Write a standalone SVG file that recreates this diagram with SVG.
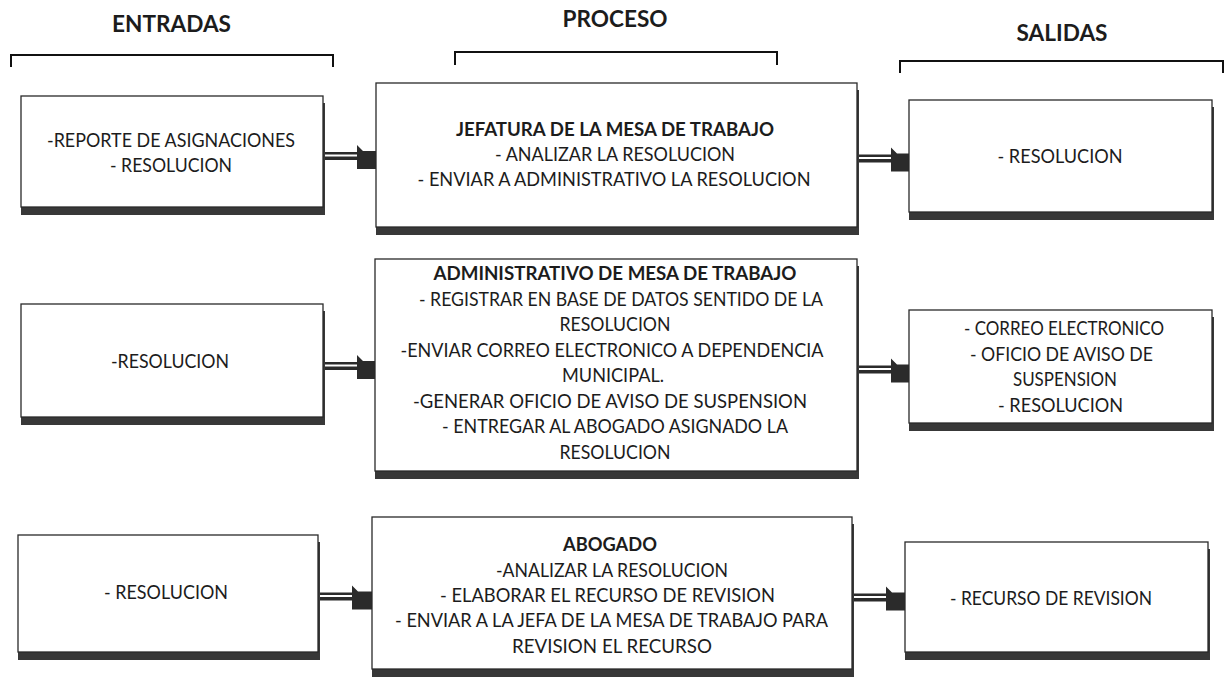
<svg xmlns="http://www.w3.org/2000/svg" width="1224" height="677" viewBox="0 0 1224 677">
<style>
.box{fill:#fff;stroke:#2a2a2a;stroke-width:1.3}
.sh{fill:#383838}
.t{font-family:Lato,"Open Sans","Liberation Sans",sans-serif;font-size:19.5px;fill:#1c1c1c;text-anchor:middle}
.b{font-weight:bold}
.h{font-family:Lato,"Open Sans","Liberation Sans",sans-serif;font-size:22.5px;font-weight:bold;fill:#1c1c1c;text-anchor:middle}
.br{fill:none;stroke:#111;stroke-width:2}
</style>
<defs>
<g id="arr">
<rect x="0" y="-4" width="36" height="8" fill="#2b2b2b"/>
<rect x="0" y="-1.5" width="36" height="2" fill="#fff"/>
<polygon points="34,-11 40,-5 54,-5 54,13 34,13" fill="#2b2b2b"/>
</g>
</defs>
<rect width="1224" height="677" fill="#fff"/>

<g id="headers">
<text class="h" x="171.5" y="32" textLength="119" lengthAdjust="spacingAndGlyphs">ENTRADAS</text>
<text class="h" x="615" y="27" textLength="105" lengthAdjust="spacingAndGlyphs">PROCESO</text>
<text class="h" x="1062" y="41" textLength="91" lengthAdjust="spacingAndGlyphs">SALIDAS</text>
<path class="br" d="M11,67 V55 H333 V67"/>
<path class="br" d="M455,65 V52 H777 V65"/>
<path class="br" d="M900,73 V61 H1223 V73"/>
</g>

<g id="connectors">
<use href="#arr" x="323" y="156"/>
<use href="#arr" x="857" y="158.5"/>
<use href="#arr" x="323" y="366"/>
<use href="#arr" x="857" y="369.5"/>
<use href="#arr" x="318" y="596.5"/>
<use href="#arr" x="852" y="597.5"/>
</g>

<g id="entrada1">
<rect class="sh" x="21" y="103" width="304" height="112"/>
<rect class="box" x="21" y="96" width="302" height="111"/>
<text class="t" x="171" y="147" textLength="248" lengthAdjust="spacingAndGlyphs">-REPORTE DE ASIGNACIONES</text>
<text class="t" x="171" y="172" textLength="122" lengthAdjust="spacingAndGlyphs">- RESOLUCION</text>
</g>

<g id="proceso1">
<rect class="sh" x="376" y="90" width="483" height="145"/>
<rect class="box" x="376" y="83" width="481" height="144"/>
<text class="t b" x="615" y="136" textLength="318" lengthAdjust="spacingAndGlyphs">JEFATURA DE LA MESA DE TRABAJO</text>
<text class="t" x="615" y="161" textLength="240" lengthAdjust="spacingAndGlyphs">- ANALIZAR LA RESOLUCION</text>
<text class="t" x="614" y="186" textLength="393" lengthAdjust="spacingAndGlyphs">- ENVIAR A ADMINISTRATIVO LA RESOLUCION</text>
</g>

<g id="salida1">
<rect class="sh" x="909" y="107" width="305" height="113"/>
<rect class="box" x="909" y="100" width="303" height="112"/>
<text class="t" x="1060" y="163" textLength="125" lengthAdjust="spacingAndGlyphs">- RESOLUCION</text>
</g>

<g id="entrada2">
<rect class="sh" x="21" y="311" width="304" height="114"/>
<rect class="box" x="21" y="304" width="302" height="113"/>
<text class="t" x="170" y="368" textLength="118" lengthAdjust="spacingAndGlyphs">-RESOLUCION</text>
</g>

<g id="proceso2">
<rect class="sh" x="375" y="266" width="484" height="213"/>
<rect class="box" x="375" y="259" width="482" height="212"/>
<text class="t b" x="615" y="280" textLength="363" lengthAdjust="spacingAndGlyphs">ADMINISTRATIVO DE MESA DE TRABAJO</text>
<text class="t" x="621" y="305.5" textLength="404" lengthAdjust="spacingAndGlyphs">- REGISTRAR EN BASE DE DATOS SENTIDO DE LA</text>
<text class="t" x="615" y="331" textLength="111" lengthAdjust="spacingAndGlyphs">RESOLUCION</text>
<text class="t" x="612" y="356.5" textLength="423" lengthAdjust="spacingAndGlyphs">-ENVIAR CORREO ELECTRONICO A DEPENDENCIA</text>
<text class="t" x="613" y="382" textLength="102" lengthAdjust="spacingAndGlyphs">MUNICIPAL.</text>
<text class="t" x="610" y="407.5" textLength="394" lengthAdjust="spacingAndGlyphs">-GENERAR OFICIO DE AVISO DE SUSPENSION</text>
<text class="t" x="615" y="433" textLength="346" lengthAdjust="spacingAndGlyphs">- ENTREGAR AL ABOGADO ASIGNADO LA</text>
<text class="t" x="615" y="458.5" textLength="111" lengthAdjust="spacingAndGlyphs">RESOLUCION</text>
</g>

<g id="salida2">
<rect class="sh" x="909" y="317" width="305" height="114"/>
<rect class="box" x="909" y="310" width="303" height="113"/>
<text class="t" x="1064" y="335" textLength="200" lengthAdjust="spacingAndGlyphs">- CORREO ELECTRONICO</text>
<text class="t" x="1061.5" y="360.5" textLength="183" lengthAdjust="spacingAndGlyphs">- OFICIO DE AVISO DE</text>
<text class="t" x="1065" y="386" textLength="104" lengthAdjust="spacingAndGlyphs">SUSPENSION</text>
<text class="t" x="1060.5" y="411.5" textLength="125" lengthAdjust="spacingAndGlyphs">- RESOLUCION</text>
</g>

<g id="entrada3">
<rect class="sh" x="18" y="542" width="302" height="118"/>
<rect class="box" x="18" y="535" width="300" height="117"/>
<text class="t" x="166" y="599" textLength="124" lengthAdjust="spacingAndGlyphs">- RESOLUCION</text>
</g>

<g id="proceso3">
<rect class="sh" x="372" y="524" width="482" height="153"/>
<rect class="box" x="372" y="517" width="480" height="152"/>
<text class="t b" x="610" y="551" textLength="94" lengthAdjust="spacingAndGlyphs">ABOGADO</text>
<text class="t" x="612" y="577" textLength="232" lengthAdjust="spacingAndGlyphs">-ANALIZAR LA RESOLUCION</text>
<text class="t" x="607.5" y="602" textLength="335" lengthAdjust="spacingAndGlyphs">- ELABORAR EL RECURSO DE REVISION</text>
<text class="t" x="611.5" y="627" textLength="433" lengthAdjust="spacingAndGlyphs">- ENVIAR A LA JEFA DE LA MESA DE TRABAJO PARA</text>
<text class="t" x="612" y="653" textLength="200" lengthAdjust="spacingAndGlyphs">REVISION EL RECURSO</text>
</g>

<g id="salida3">
<rect class="sh" x="905" y="549" width="305" height="111"/>
<rect class="box" x="905" y="542" width="303" height="110"/>
<text class="t" x="1051" y="605" textLength="202" lengthAdjust="spacingAndGlyphs">- RECURSO DE REVISION</text>
</g>
</svg>
